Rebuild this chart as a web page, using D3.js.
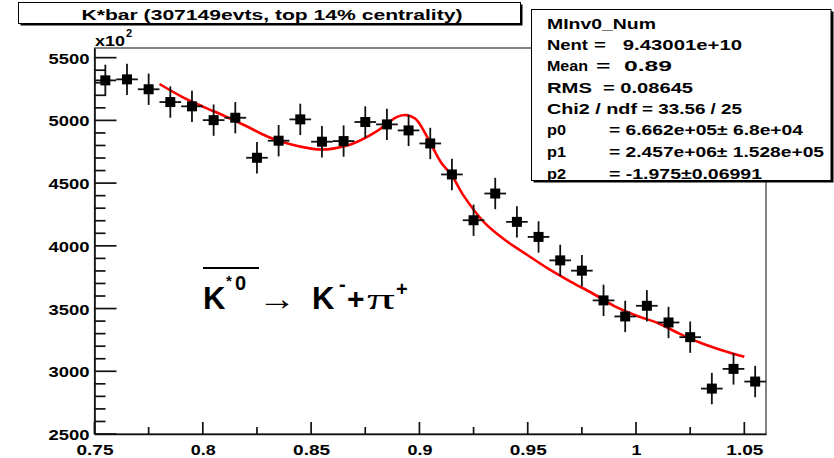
<!DOCTYPE html>
<html>
<head>
<meta charset="utf-8">
<script src="https://cdn.jsdelivr.net/npm/d3@7"></script>
<style>
  html, body { margin: 0; padding: 0; background: #fff; }
  svg { display: block; }
  text { font-family: "Liberation Sans", Arial, Helvetica, sans-serif; font-weight: bold; fill: #000; }
</style>
</head>
<body>
<svg id="chart" width="834" height="458"></svg>
<script>
// Invariant mass histogram bins (centres, GeV/c^2) and counts in units of 10^2
const binCenters = [0.755, 0.765, 0.775, 0.785, 0.795, 0.805, 0.815, 0.825, 0.835, 0.845,
                    0.855, 0.865, 0.875, 0.885, 0.895, 0.905, 0.915, 0.925, 0.935, 0.945,
                    0.955, 0.965, 0.975, 0.985, 0.995, 1.005, 1.015, 1.025, 1.035, 1.045, 1.055];
const counts = [5319, 5327, 5248, 5146, 5112, 5002, 5021, 4702, 4838, 5008,
                4830, 4835, 4987, 4968, 4920, 4816, 4569, 4204, 4417, 4191,
                4071, 3884, 3802, 3565, 3437, 3522, 3389, 3272, 2862, 3019, 2918];
const countErrors = [125, 125, 125, 125, 125, 125, 125, 125, 125, 125,
                     125, 125, 125, 125, 125, 125, 125, 125, 125, 125,
                     125, 125, 125, 125, 125, 125, 125, 125, 125, 125, 125];
const binHalfWidth = 0.005;

// Fitted function sampled along the mass axis
const fitMass = [0.78, 0.79, 0.80, 0.81, 0.82, 0.83, 0.84, 0.85, 0.855, 0.86, 0.87, 0.88,
                 0.885, 0.89, 0.894, 0.898, 0.90, 0.905, 0.91, 0.915, 0.92, 0.93, 0.94,
                 0.95, 0.96, 0.97, 0.98, 0.99, 1.00, 1.01, 1.02, 1.03, 1.04, 1.05];
const fitValue = [5290, 5192, 5110, 5035, 4955, 4870, 4812, 4775, 4768, 4775, 4820, 4910,
                  4975, 5030, 5042, 5015, 4975, 4822, 4665, 4560, 4410, 4185, 4040,
                  3925, 3812, 3713, 3620, 3520, 3445, 3385, 3300, 3225, 3165, 3115];

// Axis ticks
const yMajorTicks = [2500, 3000, 3500, 4000, 4500, 5000, 5500];
const yMinorTicks = [2600, 2700, 2800, 2900, 3100, 3200, 3300, 3400, 3600, 3700, 3800, 3900,
                     4100, 4200, 4300, 4400, 4600, 4700, 4800, 4900, 5100, 5200, 5300, 5400];
const yTickLabels = ["2500", "3000", "3500", "4000", "4500", "5000", "5500"];
const xMajorTicks = [0.75, 0.80, 0.85, 0.90, 0.95, 1.00, 1.05];
const xMinorTicks = [0.775, 0.825, 0.875, 0.925, 0.975, 1.025];
const xTickLabels = ["0.75", "0.8", "0.85", "0.9", "0.95", "1", "1.05"];

// Texts
const titleText = "K*bar (307149evts, top 14% centrality)";
const statNames = ["MInv0_Num", "Nent", "Mean", "RMS", "Chi2 / ndf", "p0", "p1", "p2"];
const statValues = ["", "=   9.43001e+10", "=  0.89", "= 0.08645", "= 33.56 / 25",
                    "= 6.662e+05\u00b1 6.8e+04", "= 2.457e+06\u00b1 1.528e+05", "= -1.975\u00b10.06991"];

const svg = d3.select("#chart");
svg.append("rect").attr("width", 834).attr("height", 458).attr("fill", "#fff");

const frame = { left: 94.5, right: 766, top: 48, bottom: 434 };
const x = d3.scaleLinear().domain([0.75, 1.06]).range([frame.left, frame.right]);
const y = d3.scaleLinear().domain([2500, 5577]).range([frame.bottom, frame.top]);

// Frame
svg.append("rect")
  .attr("x", frame.left).attr("y", frame.top)
  .attr("width", frame.right - frame.left).attr("height", frame.bottom - frame.top)
  .attr("fill", "none").attr("stroke", "#333").attr("stroke-width", 1.2);

// Axes: lines and labels
const yAxis = svg.append("g").attr("transform", `translate(${frame.left},0)`)
  .call(d3.axisLeft(y).tickValues(yMajorTicks).tickSize(0).tickPadding(5)
    .tickFormat((d, i) => yTickLabels[i]));
yAxis.selectAll("text")
  .attr("font-size", 15.5).attr("dy", "0.36em")
  .attr("textLength", 41).attr("lengthAdjust", "spacingAndGlyphs")
  .style("font-family", "'Liberation Sans', Arial, sans-serif").style("font-weight", "bold");

const xAxis = svg.append("g").attr("transform", `translate(0,${frame.bottom})`)
  .call(d3.axisBottom(x).tickValues(xMajorTicks).tickSize(0).tickPadding(10)
    .tickFormat((d, i) => xTickLabels[i]));
xAxis.selectAll("text")
  .attr("font-size", 15.5)
  .each(function () {
    const t = this.textContent;
    d3.select(this).attr("textLength", t.length === 1 ? 10 : t.length === 3 ? 25 : 37)
      .attr("lengthAdjust", "spacingAndGlyphs");
  })
  .style("font-family", "'Liberation Sans', Arial, sans-serif").style("font-weight", "bold");

[yAxis, xAxis].forEach(g => {
  g.select(".domain").attr("stroke", "#111").attr("stroke-width", 1.6);
});

// Exponent label
const expo = svg.append("text").attr("x", 95).attr("y", 45.5).attr("font-size", 14.5);
expo.append("tspan").attr("textLength", 30).attr("lengthAdjust", "spacingAndGlyphs").text("x10");
expo.append("tspan").attr("font-size", 11).attr("dy", -9).attr("dx", 1).text("2");

// Fit curve
const fitLine = d3.line()
  .x((d, i) => x(fitMass[i]))
  .y(d => y(d))
  .curve(d3.curveCatmullRom.alpha(0.5));
svg.append("path")
  .datum(fitValue)
  .attr("d", fitLine)
  .attr("fill", "none").attr("stroke", "#ff0000").attr("stroke-width", 2.6);

// Data points with error bars
const pts = svg.append("g").selectAll("g").data(counts).join("g");
pts.append("line")
  .attr("x1", (d, i) => x(binCenters[i])).attr("x2", (d, i) => x(binCenters[i]))
  .attr("y1", (d, i) => y(d - countErrors[i])).attr("y2", (d, i) => y(d + countErrors[i]))
  .attr("stroke", "#111").attr("stroke-width", 1.8);
pts.append("line")
  .attr("x1", (d, i) => x(binCenters[i] - binHalfWidth)).attr("x2", (d, i) => x(binCenters[i] + binHalfWidth))
  .attr("y1", d => y(d)).attr("y2", d => y(d))
  .attr("stroke", "#111").attr("stroke-width", 1.8);
pts.append("rect")
  .attr("x", (d, i) => x(binCenters[i]) - 5).attr("y", d => y(d) - 5)
  .attr("width", 10).attr("height", 10).attr("fill", "#000");

// Inward tick marks on both axes
const tickMarks = svg.append("g").attr("class", "tickmarks");
tickMarks.selectAll("line.ymajor").data(yMajorTicks).enter().append("line")
  .attr("class", "ymajor")
  .attr("x1", frame.left).attr("x2", frame.left + 22)
  .attr("y1", d => y(d)).attr("y2", d => y(d))
  .attr("stroke", "#111").attr("stroke-width", 1.7);
tickMarks.selectAll("line.yminor").data(yMinorTicks).enter().append("line")
  .attr("class", "yminor")
  .attr("x1", frame.left).attr("x2", frame.left + 11)
  .attr("y1", d => y(d)).attr("y2", d => y(d))
  .attr("stroke", "#111").attr("stroke-width", 1.7);
tickMarks.selectAll("line.xmajor").data(xMajorTicks).enter().append("line")
  .attr("class", "xmajor")
  .attr("x1", d => x(d)).attr("x2", d => x(d))
  .attr("y1", frame.bottom).attr("y2", frame.bottom - 12)
  .attr("stroke", "#111").attr("stroke-width", 1.7);
tickMarks.selectAll("line.xminor").data(xMinorTicks).enter().append("line")
  .attr("class", "xminor")
  .attr("x1", d => x(d)).attr("x2", d => x(d))
  .attr("y1", frame.bottom).attr("y2", frame.bottom - 7)
  .attr("stroke", "#111").attr("stroke-width", 1.7);

// Title box with shadow
svg.append("rect").attr("x", 20.5).attr("y", 4.5).attr("width", 502).attr("height", 21).attr("fill", "#000");
svg.append("rect").attr("x", 18.5).attr("y", 2.5).attr("width", 502).attr("height", 21)
  .attr("fill", "#fff").attr("stroke", "#000").attr("stroke-width", 1);
svg.append("text").attr("x", 272).attr("y", 19.5).attr("text-anchor", "middle")
  .attr("font-size", 15).attr("textLength", 381).attr("lengthAdjust", "spacingAndGlyphs")
  .text(titleText);

// Statistics box with shadow
svg.append("rect").attr("x", 533.5).attr("y", 11.5).attr("width", 300).attr("height", 171).attr("fill", "#000");
svg.append("rect").attr("x", 531.5).attr("y", 9.5).attr("width", 299.5).attr("height", 171)
  .attr("fill", "#fff").attr("stroke", "#000").attr("stroke-width", 1);

const statNameSpan = [[547, 656], [547, 588], [547, 588], [547, 592], [547, 637], [547, 566], [547, 566], [547, 566]];
const statValueSpan = [null, [594, 742], [596, 672], [603, 693], [642, 742], [609, 803], [609, 824], [609, 762]];
const statBaseline = [28.5, 50, 70.5, 92.5, 113.5, 135, 156.5, 178.5];
statNames.forEach((name, i) => {
  svg.append("text").attr("x", statNameSpan[i][0]).attr("y", statBaseline[i])
    .attr("font-size", 15)
    .attr("textLength", statNameSpan[i][1] - statNameSpan[i][0]).attr("lengthAdjust", "spacingAndGlyphs")
    .text(name);
  if (statValues[i]) {
    svg.append("text").attr("x", statValueSpan[i][0]).attr("y", statBaseline[i])
      .attr("font-size", 15).attr("xml:space", "preserve").style("white-space", "pre")
      .attr("textLength", statValueSpan[i][1] - statValueSpan[i][0]).attr("lengthAdjust", "spacingAndGlyphs")
      .text(statValues[i]);
  }
});

// Decay channel annotation
const ann = svg.append("g");
ann.append("text").attr("x", 203).attr("y", 309).attr("font-size", 31).text("K");
ann.append("line").attr("x1", 203).attr("x2", 259).attr("y1", 268).attr("y2", 268)
  .attr("stroke", "#000").attr("stroke-width", 2);
ann.append("text").attr("x", 226).attr("y", 286).attr("font-size", 15).text("*");
ann.append("text").attr("x", 235).attr("y", 290).attr("font-size", 20).text("0");
ann.append("text").attr("x", 258).attr("y", 310).attr("font-size", 34)
  .style("font-family", "'Liberation Serif', 'Times New Roman', serif").style("font-weight", "normal")
  .attr("textLength", 38).attr("lengthAdjust", "spacingAndGlyphs").text("\u2192");
ann.append("text").attr("x", 312).attr("y", 309).attr("font-size", 31).text("K");
ann.append("text").attr("x", 339).attr("y", 291).attr("font-size", 20).text("-");
ann.append("text").attr("x", 347).attr("y", 309).attr("font-size", 30).text("+");
ann.append("text").attr("x", 367).attr("y", 309).attr("font-size", 30)
  .style("font-family", "'Liberation Serif', 'Times New Roman', serif").style("font-weight", "normal")
  .attr("textLength", 28).attr("lengthAdjust", "spacingAndGlyphs").text("\u03c0");
ann.append("text").attr("x", 396).attr("y", 296).attr("font-size", 20).text("+");
</script>
</body>
</html>
